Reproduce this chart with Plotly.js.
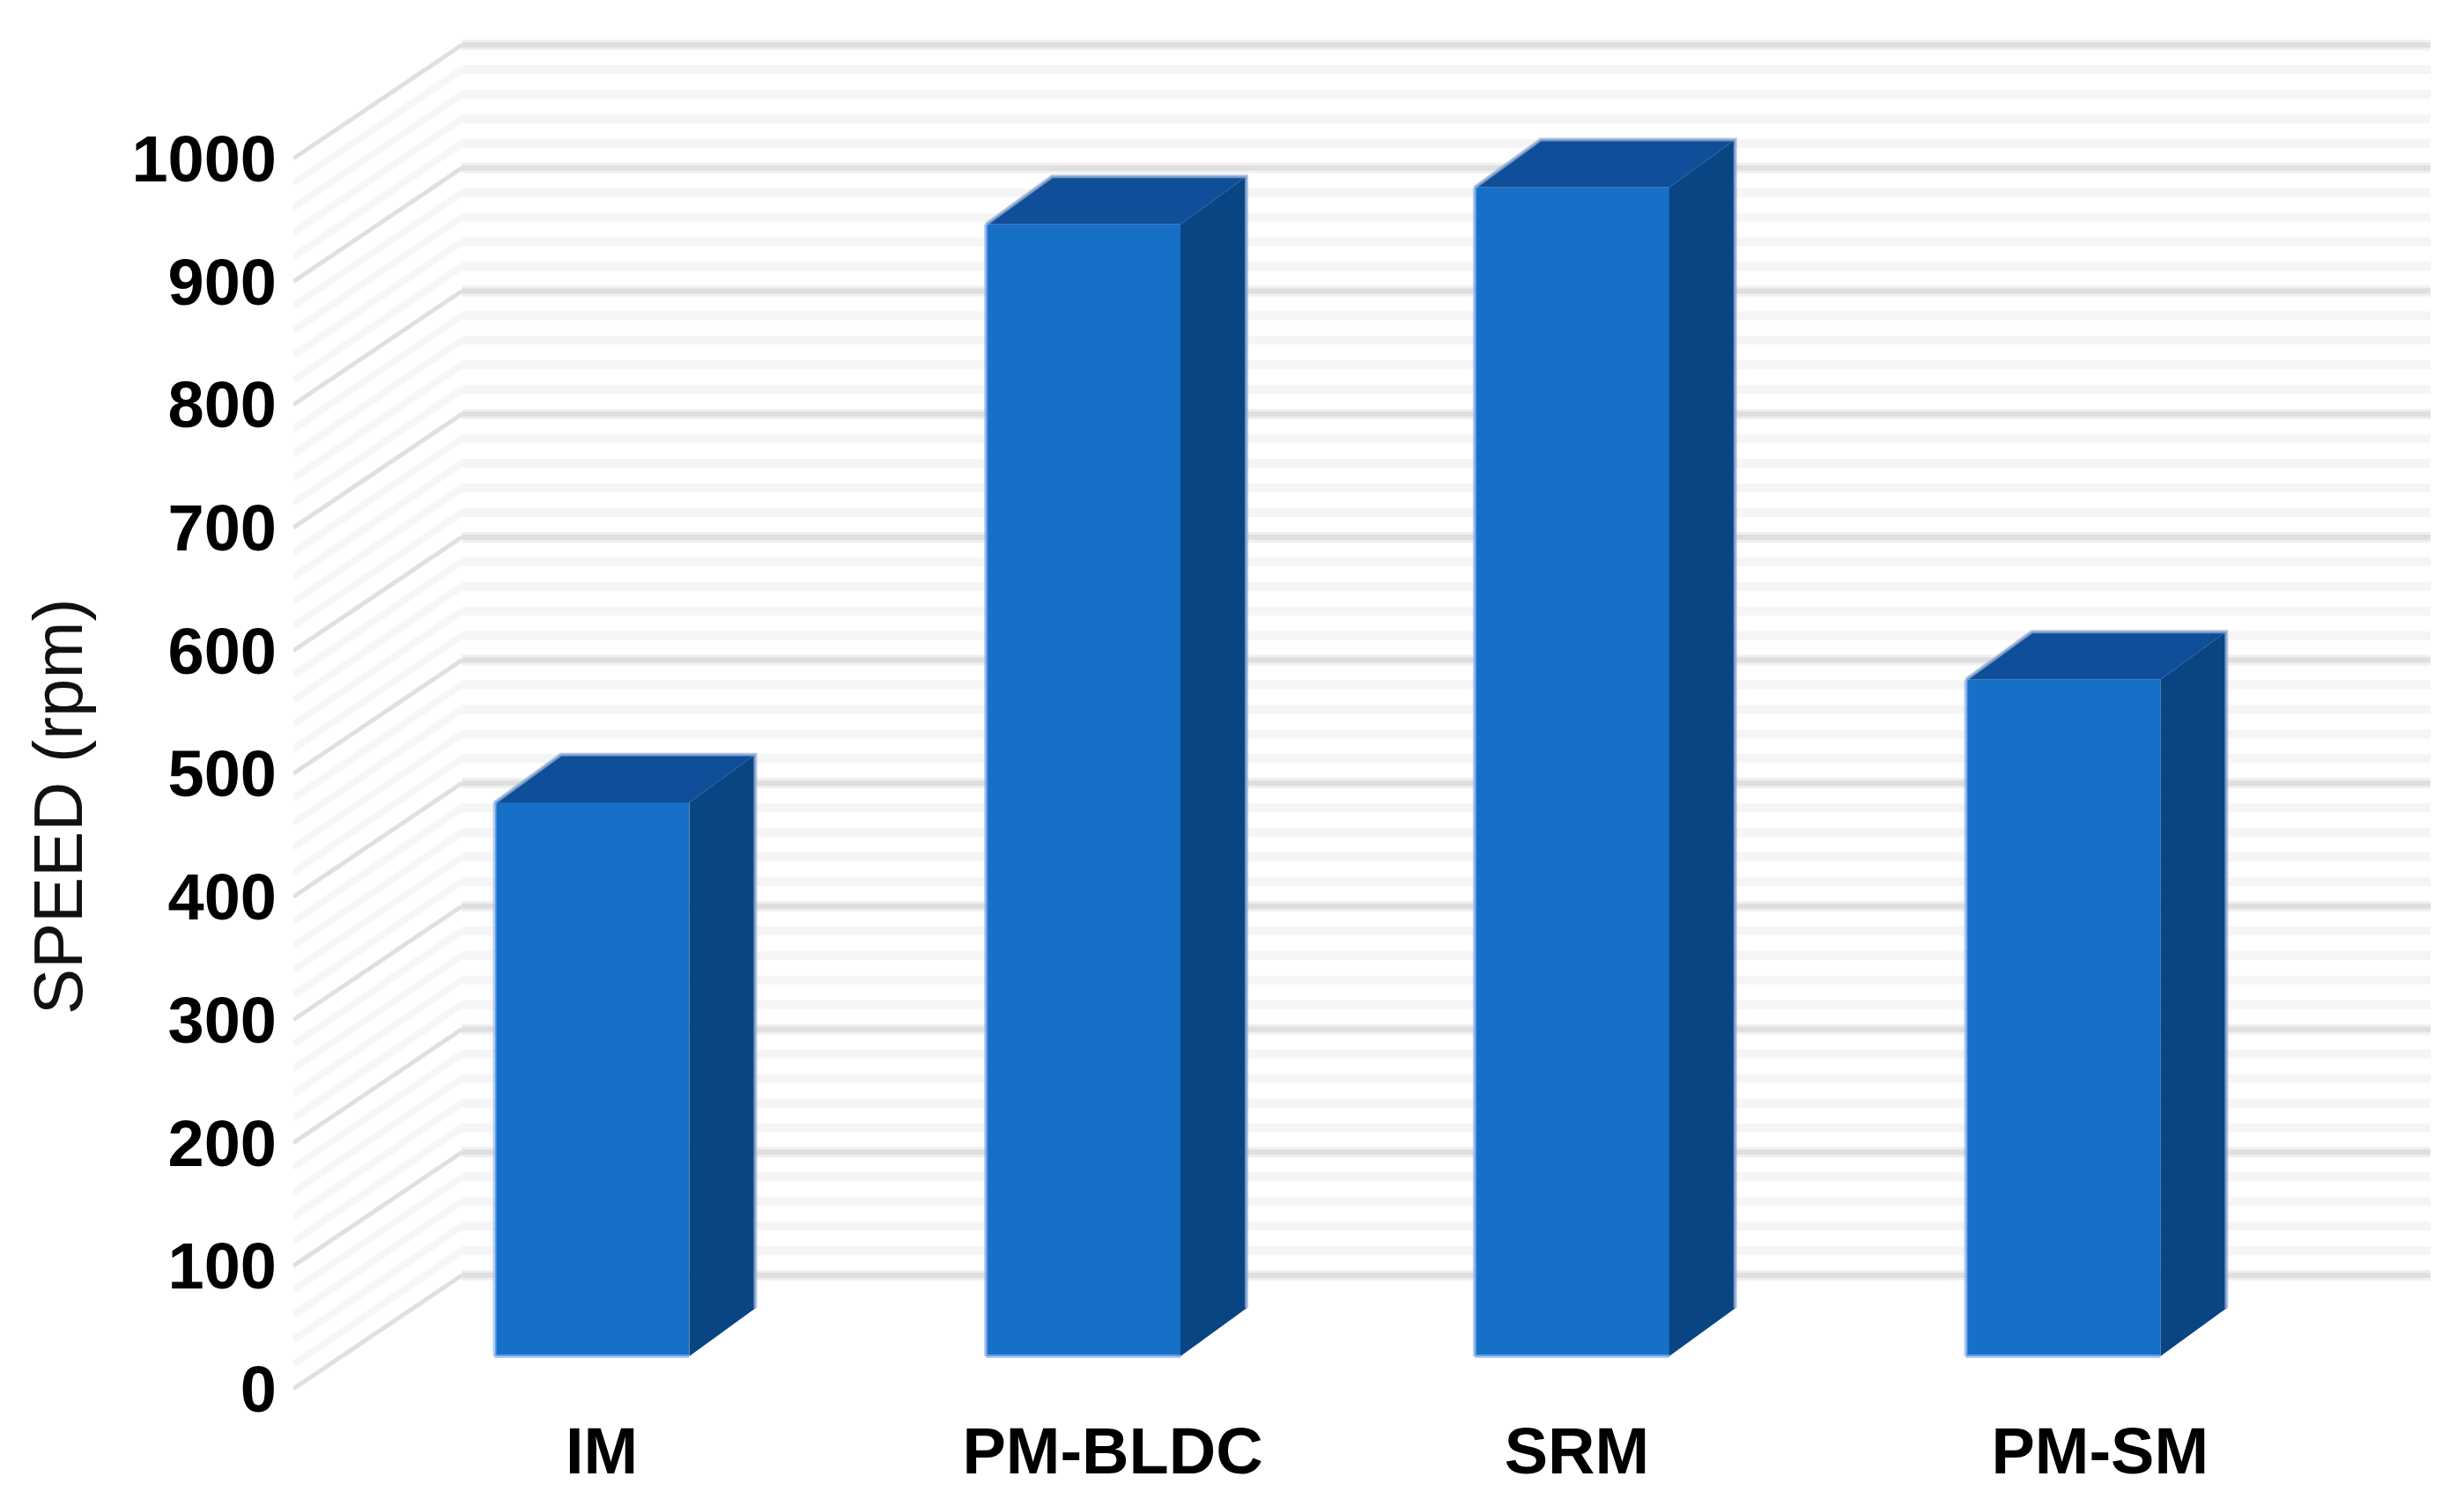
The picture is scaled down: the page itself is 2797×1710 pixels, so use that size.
<!DOCTYPE html>
<html><head><meta charset="utf-8">
<script src="https://cdn.plot.ly/plotly-3.0.1.min.js"></script>
<style>html,body{margin:0;padding:0;background:#fff}</style></head>
<body><div id="chart" style="width:2797px;height:1710px"></div>
<script>
// Data
const categories = ["IM","PM-BLDC","SRM","PM-SM"];
const speeds = [450,920,950,550];
const barPositions = [0,1,1.995,2.995];
const labelPositions = [0.02,1.06,2.005,3.07];
const yTicks = [0,100,200,300,400,500,600,700,800,900,1000];
const minorTicks = [20,40,60,80,120,140,160,180,220,240,260,280,320,340,360,380,420,440,460,480,520,540,560,580,620,640,660,680,720,740,760,780,820,840,860,880,920,940,960,980];

// Pseudo-3D geometry, in axis units
const barWidth = 0.396, barBase = 26.5, barDx = 0.1345, barDy = 39;
const wallLeft = -0.608, wallBack = -0.265, wallRight = 3.743, wallDy = 92.3;
const xRange = [-0.608,3.752], yRange = [-9.3,1107.4];

function diag(vals){const x=[],y=[];vals.forEach(v=>{x.push(wallLeft,wallBack,null);y.push(v,v+wallDy,null);});return {x,y};}
function back(vals){const x=[],y=[];vals.forEach(v=>{x.push(wallBack,wallRight,null);y.push(v+wallDy,v+wallDy,null);});return {x,y};}
const line=(g,c,w,top)=>Object.assign({type:'scatter',mode:'lines',x:g.x,y:g.y,line:{color:c,width:w},hoverinfo:'skip',showlegend:false},top?{xaxis:'x2',yaxis:'y2'}:{});

const sideX=[],sideY=[],topX=[],topY=[],edgeX=[],edgeY=[],baseX=[],baseY=[];
speeds.forEach((v,i)=>{
  const l=barPositions[i]-barWidth/2,r=barPositions[i]+barWidth/2,t=barBase+v;
  sideX.push(r,r+barDx,r+barDx,r,r,null);
  sideY.push(barBase,barBase+barDy,t+barDy,t,barBase,null);
  topX.push(l,l+barDx,r+barDx,r,l,null);
  topY.push(t,t+barDy,t+barDy,t,t,null);
  edgeX.push(l,l+barDx,r+barDx,r+barDx,null);
  edgeY.push(t,t+barDy,t+barDy,barBase+barDy,null);
  baseX.push(l,l,null,l,r,null);
  baseY.push(t,barBase,null,barBase,barBase,null);
});

const traces=[
  line(diag(minorTicks),'#f6f6f6',8),
  line(back(minorTicks),'#f5f5f5',10),
  line(back(yTicks),'#f0f0f0',12),
  line(back(yTicks),'#dfdfdf',6),
  line(diag(yTicks),'#e0e0e0',5),
  {type:'bar',x:barPositions,y:speeds,base:barBase,width:barWidth,xaxis:'x2',yaxis:'y2',marker:{color:'#1670c8',line:{width:0}},hoverinfo:'skip',showlegend:false},
  {type:'scatter',mode:'lines',x:sideX,y:sideY,xaxis:'x2',yaxis:'y2',fill:'toself',fillcolor:'#0a4583',line:{width:0,color:'#0a4583'},hoverinfo:'skip',showlegend:false},
  {type:'scatter',mode:'lines',x:topX,y:topY,xaxis:'x2',yaxis:'y2',fill:'toself',fillcolor:'#0f4e98',line:{width:0,color:'#0f4e98'},hoverinfo:'skip',showlegend:false},
  line({x:edgeX,y:edgeY},'rgba(150,175,215,0.75)',4,true),
  line({x:baseX,y:baseY},'rgba(140,180,235,0.7)',4,true)
];

const W=2797,H=1710,pL=333,pR=2764,pT=30,pB=1590;
const fam='"Liberation Sans",Arial,sans-serif';
const layout={
  width:W,height:H,showlegend:false,paper_bgcolor:'#fff',plot_bgcolor:'#fff',
  margin:{l:pL,r:W-pR,t:pT,b:H-pB,pad:0},
  font:{family:fam,color:'#000'},
  xaxis:{range:xRange,tickmode:'array',tickvals:labelPositions,ticktext:categories,showgrid:false,zeroline:false,showline:false,ticks:'',
    tickangle:0,tickfont:{size:74,family:fam,weight:700,color:'#000'},ticklabelstandoff:8},
  yaxis:{range:yRange,tickmode:'array',tickvals:yTicks,ticktext:yTicks.map(String),showgrid:false,zeroline:false,showline:false,ticks:'',
    tickfont:{size:74,family:fam,weight:700,color:'#000'},ticklabelstandoff:18},
  xaxis2:{range:xRange,overlaying:'x',visible:false,anchor:'y2'},
  yaxis2:{range:yRange,overlaying:'y',visible:false,anchor:'x2'},
  annotations:[{text:'SPEED (rpm)',xref:'paper',yref:'paper',x:(66-pL)/(pR-pL),y:(pB-916)/(pB-pT),xanchor:'center',yanchor:'middle',textangle:-90,showarrow:false,
    font:{size:78,family:fam,color:'#111'}}],
  bargap:0
};
Plotly.newPlot('chart',traces,layout,{displayModeBar:false,responsive:false});
</script></body></html>
